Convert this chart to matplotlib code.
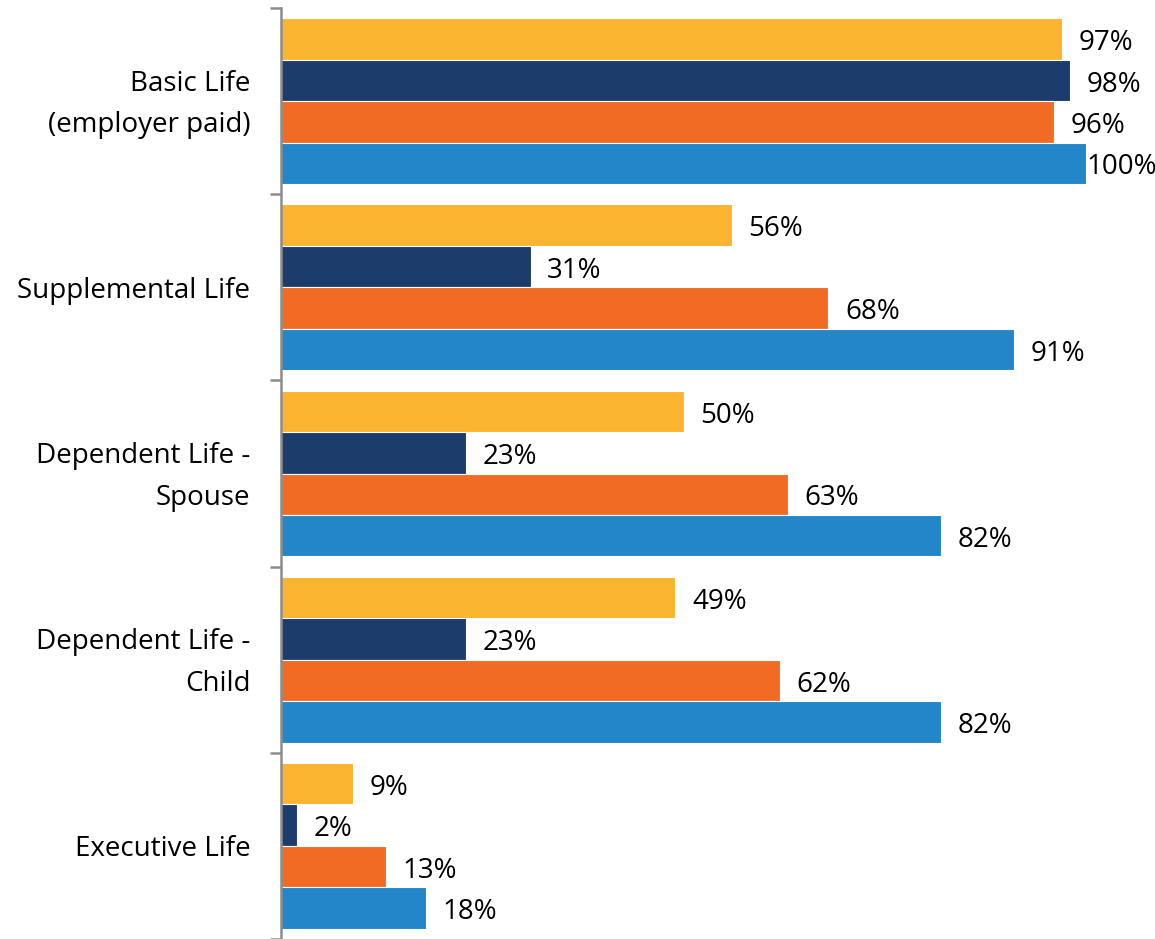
import numpy as np
import matplotlib
matplotlib.use("Agg")
from matplotlib import pyplot as plt

plt.rcParams['font.family'] = ['Open Sans', 'DejaVu Sans']

categories = ["Basic Life\n(employer paid)", "Supplemental Life",
              "Dependent Life -\nSpouse", "Dependent Life -\nChild", "Executive Life"]

# one list per bar colour, top to bottom inside each group
yellow_vals = [97, 56, 50, 49, 9]
navy_vals = [98, 31, 23, 23, 2]
orange_vals = [96, 68, 63, 62, 13]
blue_vals = [100, 91, 82, 82, 18]

series = [yellow_vals, navy_vals, orange_vals, blue_vals]
colors = ["#FBB430", "#1C3C6B", "#F26B24", "#2386C8"]

fig = plt.figure(figsize=(11.55, 9.39), dpi=100)
ax = fig.add_axes([281 / 1155, 0.0, 1 - 281 / 1155, 1 - 8 / 939])

n = len(series)
barH = 0.89 / n
ys = np.arange(len(categories))
xmax = (1155 - 281) / 8.05

for i, (vals, col) in enumerate(zip(series, colors)):
   pos = ys - 0.445 + barH * (i + 0.5)
   bars = ax.barh(pos, vals, height=barH, color=col, edgecolor="white", linewidth=0.8)
   for b, v in zip(bars, vals):
      # a full-width bar leaves no room, so its label sits right at the bar end
      dx = 0.5 if v >= 100 else 12
      ax.annotate(f"{v}%", xy=(b.get_width(), b.get_y() + b.get_height() / 2),
                  xytext=(dx, -3), textcoords="offset points",
                  ha="left", va="center", fontsize=20, color="black")

ax.set_xlim(0, xmax)
ax.set_ylim(len(categories) - 0.5, -0.5)

# group separators as ticks
ax.set_yticks(np.arange(len(categories) + 1) - 0.5)
ax.set_yticklabels([])
ax.tick_params(axis="y", which="major", length=8, width=1.8, color="#8c8c8c")
ax.set_xticks([])

# category names, right aligned left of the axis
for y, name in zip(ys, categories):
   ax.annotate(name, xy=(0, y), xycoords=("axes fraction", "data"),
               xytext=(-22, -2.5), textcoords="offset points",
               ha="right", va="center", fontsize=20, linespacing=1.65,
               multialignment="right", annotation_clip=False)

for side in ["top", "right", "bottom"]:
   ax.spines[side].set_visible(False)
ax.spines["left"].set_color("#8c8c8c")
ax.spines["left"].set_linewidth(1.8)

fig.savefig("out.png", dpi=100)
